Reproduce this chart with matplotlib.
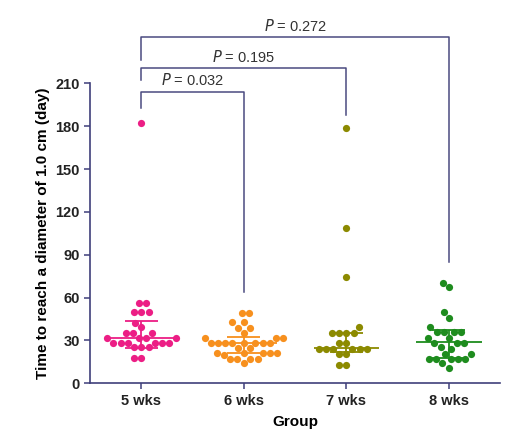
import numpy as np
import matplotlib.pyplot as plt

plt.rcParams['font.family'] = ['Liberation Sans', 'DejaVu Sans']

groups = ['5 wks', '6 wks', '7 wks', '8 wks']
colors = ['#EC1E85', '#F7901E', '#8C8A00', '#1E8C1E']

wk5 = [182, 56, 56, 50, 50, 50, 42.4, 39.2, 35.4, 35.4, 35.4,
       31.5, 31.5, 31.5, 31.5, 28.4, 28.4, 28.4, 28.4, 28.4, 28.4,
       25.6, 25.6, 25.6, 18, 18]
wk6 = [49, 49, 43, 43, 39, 39, 35.4, 32, 32, 32,
       28.4, 28.4, 28.4, 28.4, 28.4, 28.4, 28.4, 28.4,
       24.5, 24.5, 21, 21, 21, 21, 21, 20, 16.8, 16.8, 16.8, 16.8, 14]
wk7 = [179, 108.5, 74.2, 39.2, 35, 35, 35, 35, 28, 28,
       23.8, 23.8, 23.8, 23.8, 23.8, 23.8, 20.5, 20.5, 12.8, 12.8]
wk8 = [70.4, 67.2, 50, 45.5, 39.2, 36, 36, 36, 36, 31.5, 31.5,
       28, 28, 28, 25.6, 23.8, 20.5, 20.5, 17, 17, 17, 17, 17, 14, 11]
data = [wk5, wk6, wk7, wk8]

# median and interquartile range
medians = [31.5, 28.4, 24.5, 29.1]
q_low = [25.0, 21.0, 22.0, 17.5]
q_high = [43.8, 32.6, 35.0, 37.3]

# comparisons: (group a, group b, p label, bar height, left arm end, right arm end)
comparisons = [(0, 1, '0.032', 204, 192.7, 64),
               (0, 2, '0.195', 220.5, 212.3, 188),
               (0, 3, '0.272', 242.2, 226.3, 85)]


def swarm(values, d, xscale, yscale):
    # simple beeswarm, offsets in category units
    order = np.argsort(values)
    placed = []
    offsets = np.zeros(len(values))
    for i in order:
        y = values[i] * yscale
        cands = [0.0]
        for (px, py) in placed:
            dy = abs(py - y)
            if dy < d:
                dx = np.sqrt(d * d - dy * dy)
                cands += [px + dx, px - dx]
        cands = sorted(cands, key=lambda c: (abs(c), c))
        for c in cands:
            if all((c - px) ** 2 + (y - py) ** 2 >= d * d - 1e-6 for (px, py) in placed):
                offsets[i] = c / xscale
                placed.append((c, y))
                break
    return offsets


fig = plt.figure(figsize=(5.15, 4.48), dpi=100)
ax = fig.add_axes([0.175, 0.1444, 0.796, 0.6696])

axis_col = '#3F3F7A'
xscale = 102.5
yscale = 300 / 210 * 0.8   # squash y a bit so rows spread sideways like the original

for i, vals in enumerate(data):
    vals = np.array(vals, dtype=float)
    off = swarm(vals, 7.2, xscale, yscale)
    ax.scatter(i + off, vals, s=27, color=colors[i], zorder=3, linewidths=0)
    ax.hlines(medians[i], i - 0.32, i + 0.32, color=colors[i], lw=1.3, zorder=4)
    ax.hlines([q_low[i], q_high[i]], i - 0.16, i + 0.16, color=colors[i], lw=1.3, zorder=4)
    ax.vlines(i, q_low[i], q_high[i], color=colors[i], lw=1.3, zorder=4)

for a, b, p, h, la, rb in comparisons:
    ax.plot([a, a, b, b], [la, h, h, rb], color='#4A4A80', lw=1.1, clip_on=False)
    ax.text((a + b) / 2, h + 2.5, '$\\it{P}$ = ' + p, ha='center', va='bottom',
            fontsize=10.5, color='#333333', clip_on=False)

ax.set_xlim(-0.5, 3.5)
ax.set_ylim(0, 210)
ax.set_yticks(range(0, 211, 30))
ax.set_xticks(range(4))
ax.set_xticklabels(groups)
for lab in ax.get_xticklabels() + ax.get_yticklabels():
    lab.set_fontweight('bold')
    lab.set_fontsize(10.5)
ax.set_xlabel('Group', fontsize=11, fontweight='bold', labelpad=5)
ax.set_ylabel('Time to reach a diameter of 1.0 cm (day)', fontsize=11, fontweight='bold')

ax.spines['top'].set_visible(False)
ax.spines['right'].set_visible(False)
for s in ['left', 'bottom']:
    ax.spines[s].set_color(axis_col)
    ax.spines[s].set_linewidth(1.2)
ax.tick_params(colors=axis_col, labelcolor='#222222', width=1.1, length=4)

fig.savefig('out.png', dpi=100)
